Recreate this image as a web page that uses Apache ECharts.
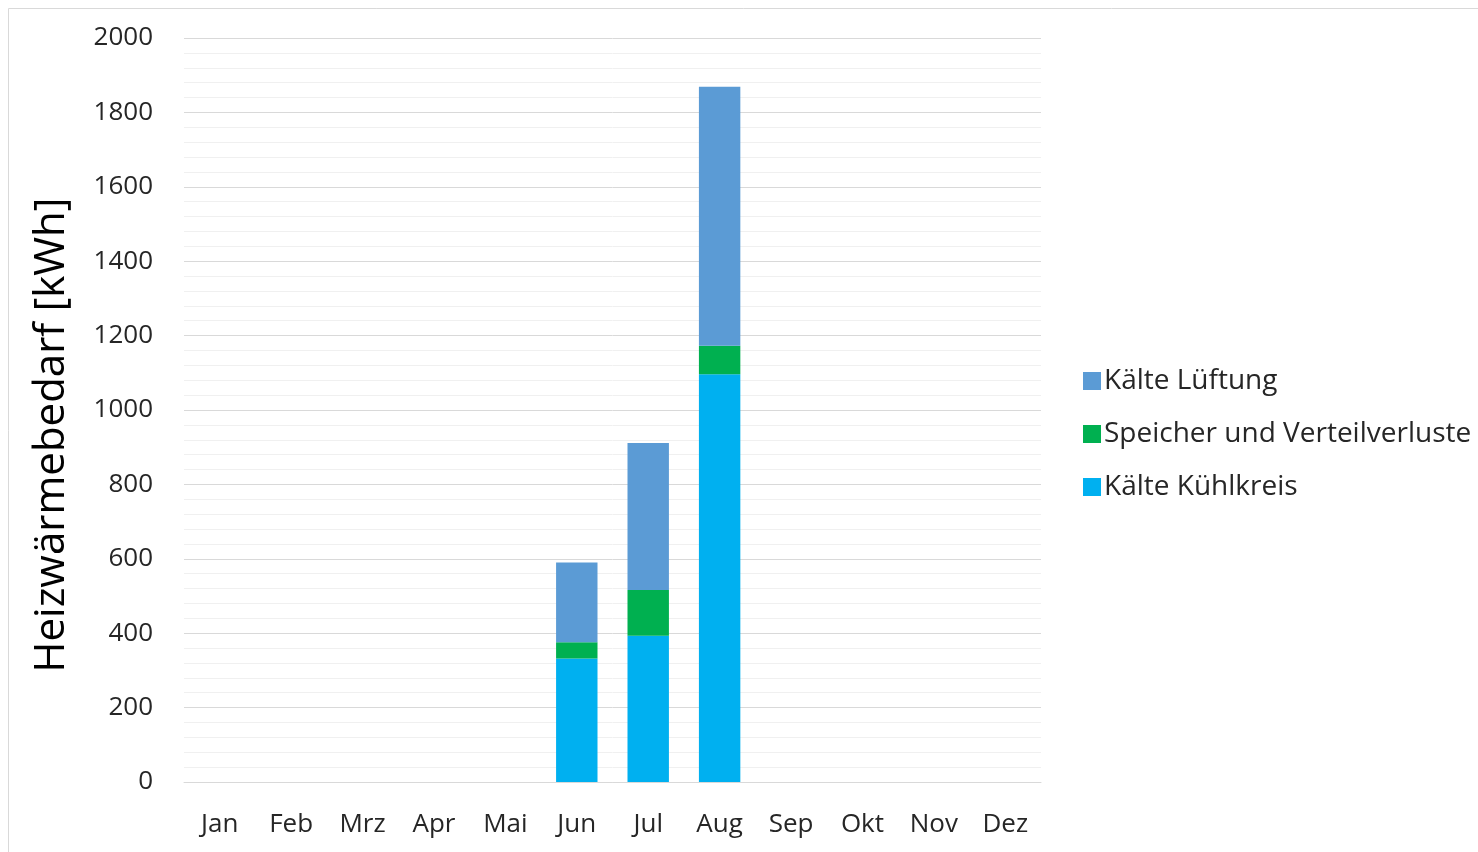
<!DOCTYPE html>
<html><head><meta charset="utf-8">
<script src="https://cdn.jsdelivr.net/npm/echarts@6/dist/echarts.min.js"></script>
<style>html,body{margin:0;padding:0;background:#fff}#c{width:1478px;height:852px}</style>
</head><body><div id="c"></div>
<script>
const months = ['Jan','Feb','Mrz','Apr','Mai','Jun','Jul','Aug','Sep','Okt','Nov','Dez'];
const kuehlkreis = [0,0,0,0,0,332,393,1096,0,0,0,0];
const speicher   = [0,0,0,0,0,44,123,77,0,0,0,0];
const lueftung   = [0,0,0,0,0,214,395,696,0,0,0,0];
const yTicks = [0,200,400,600,800,1000,1200,1400,1600,1800,2000];
const names = ['Kälte Kühlkreis','Speicher und Verteilverluste','Kälte Lüftung'];
const colors = ['#00B0F0','#00B050','#5B9BD5'];
const yTitle = 'Heizwärmebedarf [kWh]';
const FONT = 'Open Sans';
const chart = echarts.init(document.getElementById('c'));
const mk = (name, data, color) => ({
  name, type:'bar', stack:'a', data, barWidth:'58%',
  itemStyle:{color}, emphasis:{disabled:true}
});
chart.setOption({
  animation:false,
  textStyle:{fontFamily:FONT},
  graphic:[
    {type:'rect', shape:{x:8.5,y:8.5,width:1500,height:900}, style:{fill:'none',stroke:'#d9d9d9',lineWidth:1}, silent:true},
    {type:'text', x:52, y:435, rotation:Math.PI/2, silent:true,
     style:{text:yTitle, fontSize:42, fontFamily:FONT, fill:'#000', align:'center', verticalAlign:'middle'}}
  ],
  grid:{left:184,right:437,top:38,bottom:70},
  legend:{
    orient:'vertical', left:1078, top:362, itemGap:25,
    itemWidth:18, itemHeight:18, icon:'rect',
    data:[names[2],names[1],names[0]],
    textStyle:{fontSize:28,color:'#262626',fontFamily:FONT,padding:[0,0,0,-2]},
    itemStyle:{borderWidth:0}
  },
  xAxis:{type:'category', data:months,
    axisLine:{lineStyle:{color:'#d9d9d9'}}, axisTick:{show:false},
    axisLabel:{fontSize:26,color:'#262626',margin:30,fontFamily:FONT}},
  yAxis:{type:'value', min:yTicks[0], max:yTicks[yTicks.length-1], interval:200,
    axisLine:{show:false}, axisTick:{show:false},
    axisLabel:{fontSize:26,color:'#262626',margin:31,fontFamily:FONT, formatter:v=>String(v)},
    splitLine:{lineStyle:{color:'#d9d9d9'}},
    minorTick:{show:false, splitNumber:5},
    minorSplitLine:{show:true, lineStyle:{color:'#f0f0f0'}}
  },
  series:[mk(names[0],kuehlkreis,colors[0]), mk(names[1],speicher,colors[1]), mk(names[2],lueftung,colors[2])]
});
</script></body></html>
